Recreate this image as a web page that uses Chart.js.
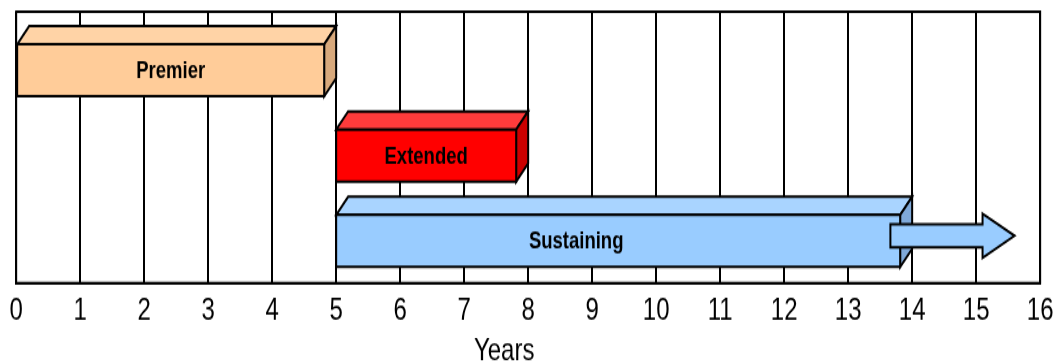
<!DOCTYPE html>
<html>
<head>
<meta charset="utf-8">
<script src="https://cdn.jsdelivr.net/npm/chart.js@4/dist/chart.umd.min.js"></script>
<style>
  html, body { margin: 0; padding: 0; background: #fff; overflow: hidden; }
  /* the timeline is drawn at 280px tall and stretched to the 364px frame */
  #frame { position: absolute; left: 0; top: 0; width: 1063px; height: 280px;
           transform: scaleY(1.3); transform-origin: 0 0; }
</style>
</head>
<body>
<div id="frame"><canvas id="timeline" width="1063" height="280"></canvas></div>
<script>
// Support phases, in years
const phases      = ['Premier', 'Extended', 'Sustaining'];
const phaseStart  = [0, 5, 5];
const phaseEnd    = [5, 8, 14];
// Sustaining support continues past year 14 (arrow)
const continuation = [13.66, 15.6];
const yearMin = 0;
const yearMax = 16;
const axisTitle = 'Years';

const FONT = "'Liberation Sans', Arial, Helvetica, sans-serif";

// Face colours of each prism: front, top, side
const faceColors = ['#FFCC99', '#FF0000', '#99CCFF'];
const topColors  = ['#FFD3A6', '#FF3B3B', '#A9D4FF'];
const sideColors = ['#D8A97C', '#CC0000', '#7FA9D9'];

// Draws each floating bar as an oblique 3D box, and the continuation as an arrow
const prismBars = {
  id: 'prismBars',
  beforeDatasetDraw(chart, args, opts) {
    const ds = chart.data.datasets[args.index];
    const ctx = chart.ctx;
    const xScale = chart.scales.x;
    ctx.save();
    ctx.lineWidth = opts.lineWidth;
    ctx.strokeStyle = '#000';
    ctx.lineJoin = 'miter';
    args.meta.data.forEach((bar, i) => {
      const row = ds.data[i].y;
      const p = bar.getProps(['x', 'y', 'base', 'height'], true);
      const left = Math.min(p.x, p.base);
      const right = Math.max(p.x, p.base);
      const top = p.y - p.height / 2;
      const bottom = p.y + p.height / 2;

      if (ds.shape === 'arrow') {
        const head = opts.arrowHead;
        const cy = p.y + opts.arrowShift;
        const shaftHalf = p.height * opts.shaftRatio / 2;
        const half = p.height / 2;
        ctx.beginPath();
        ctx.moveTo(left, cy - shaftHalf);
        ctx.lineTo(right - head, cy - shaftHalf);
        ctx.lineTo(right - head, cy - half);
        ctx.lineTo(right, cy);
        ctx.lineTo(right - head, cy + half);
        ctx.lineTo(right - head, cy + shaftHalf);
        ctx.lineTo(left, cy + shaftHalf);
        ctx.closePath();
        ctx.fillStyle = ds.backgroundColor;
        ctx.fill();
        ctx.stroke();
        return;
      }

      const dx = opts.depthX, dy = opts.depthY;
      const fx0 = left, fx1 = right - dx;
      const fy0 = top + dy, fy1 = bottom;

      // top face
      ctx.beginPath();
      ctx.moveTo(fx0, fy0);
      ctx.lineTo(fx0 + dx, top);
      ctx.lineTo(fx1 + dx, top);
      ctx.lineTo(fx1, fy0);
      ctx.closePath();
      ctx.fillStyle = topColors[row];
      ctx.fill();
      ctx.stroke();

      // side face
      ctx.beginPath();
      ctx.moveTo(fx1, fy0);
      ctx.lineTo(fx1 + dx, top);
      ctx.lineTo(fx1 + dx, bottom - dy);
      ctx.lineTo(fx1, bottom);
      ctx.closePath();
      ctx.fillStyle = sideColors[row];
      ctx.fill();
      ctx.stroke();

      // front face
      ctx.beginPath();
      ctx.rect(fx0, fy0, fx1 - fx0, fy1 - fy0);
      ctx.fillStyle = faceColors[row];
      ctx.fill();
      ctx.stroke();

      // phase name
      const name = phases[row];
      const at = opts.labelAt[name];
      const tx = at != null ? xScale.getPixelForValue(at) : (fx0 + fx1) / 2;
      ctx.fillStyle = '#000';
      ctx.font = 'bold ' + opts.labelSize + 'px ' + FONT;
      ctx.textAlign = 'center';
      ctx.textBaseline = 'middle';
      ctx.fillText(name, tx, (fy0 + fy1) / 2 + 1);
    });
    ctx.restore();
    return false;
  }
};

// Outline round the plot area, and the axis title under the year labels
const plotFrame = {
  id: 'plotFrame',
  beforeDatasetsDraw(chart) {
    const { ctx, chartArea: a } = chart;
    ctx.save();
    ctx.strokeStyle = '#000';
    ctx.lineWidth = 2;
    ctx.strokeRect(a.left, a.top, a.right - a.left, a.bottom - a.top);
    ctx.restore();
  },
  afterDraw(chart, args, opts) {
    const { ctx, chartArea: a } = chart;
    ctx.save();
    ctx.fillStyle = '#000';
    ctx.font = '24px ' + FONT;
    ctx.textAlign = 'center';
    ctx.textBaseline = 'middle';
    ctx.fillText(opts.title, (a.left + a.right) / 2 + opts.titleShift, chart.height - opts.titleFromBottom);
    ctx.restore();
  }
};

new Chart(document.getElementById('timeline'), {
  type: 'bar',
  data: {
    datasets: [
      {
        label: 'Phase',
        data: phases.map((_, i) => ({ x: [phaseStart[i], phaseEnd[i]], y: i })),
        backgroundColor: faceColors,
        barThickness: 54,
        grouped: false,
        order: 2
      },
      {
        label: 'Continuing',
        shape: 'arrow',
        data: [{ x: continuation, y: phases.indexOf('Sustaining') }],
        backgroundColor: '#99CCFF',
        barThickness: 34,
        grouped: false,
        order: 1
      }
    ]
  },
  options: {
    indexAxis: 'y',
    responsive: false,
    animation: false,
    events: [],
    layout: { padding: { left: 12, right: 13, top: 9, bottom: 19.3 } },
    plugins: {
      legend: { display: false },
      tooltip: { enabled: false },
      plotFrame: { title: axisTitle, titleShift: -24, titleFromBottom: 10 },
      prismBars: {
        lineWidth: 2,
        depthX: 12,
        depthY: 14,
        labelSize: 18.5,
        labelAt: { Sustaining: 8.75 },
        arrowHead: 32,
        shaftRatio: 0.52,
        arrowShift: 3
      }
    },
    scales: {
      x: {
        type: 'linear',
        min: yearMin,
        max: yearMax,
        ticks: {
          stepSize: 1,
          padding: 9.5,
          color: '#000',
          autoSkip: false,
          maxRotation: 0,
          font: { family: FONT, size: 24, lineHeight: 1.0 }
        },
        grid: { color: '#000', lineWidth: 2, drawTicks: false },
        border: { display: true, color: '#000', width: 2 }
      },
      y: {
        type: 'linear',
        reverse: true,
        offset: false,
        min: -0.58,
        max: 2.6,
        display: false,
        grid: { display: false, offset: false }
      }
    }
  },
  plugins: [plotFrame, prismBars]
});
</script>
</body>
</html>
